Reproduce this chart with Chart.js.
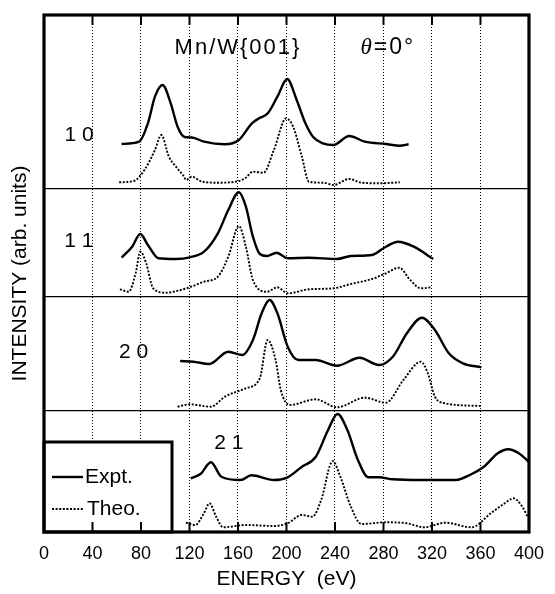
<!DOCTYPE html>
<html>
<head>
<meta charset="utf-8">
<script src="https://cdn.jsdelivr.net/npm/chart.js@4.4.1/dist/chart.umd.min.js"></script>
<style>
  html, body { margin: 0; padding: 0; background: #fff; }
</style>
</head>
<body>
<canvas id="leed" width="555" height="594"></canvas>
<script>
// LEED I(V) curves, Mn/W{001}, theta = 0
// energies in eV, intensities in arb. units (relative to the panel floor)

const energyTicks = [0, 40, 80, 120, 160, 200, 240, 280, 320, 360, 400];

// beam 1 0
const e10Expt = [64, 78.5, 85.7, 91.5, 97.8, 104.5, 110.2, 116, 122, 132, 149, 160.7, 171.5, 177.4, 184.6, 192.5, 200.6, 208.4, 215.6, 222, 230, 238.7, 251.7, 264.6, 282, 293.5, 300.7];
const i10Expt = [45, 47.3, 65.7, 92.3, 104, 85.7, 62.3, 52, 51.5, 47.3, 44.7, 49, 65.7, 70.7, 75.7, 92.3, 110, 89, 65.7, 52, 45.7, 44, 53, 47.3, 45, 43.3, 44.7];
const e10Theo = [62, 74, 82.8, 91.5, 96.7, 103, 108.8, 114.6, 117.5, 121.8, 130.4, 143.4, 160.7, 166.5, 172.3, 181, 189.6, 199.7, 205.5, 212.7, 218.5, 230, 238.7, 251.7, 261.8, 276.2, 293.5];
const i10Theo = [6.7, 8, 19, 39, 54, 32.3, 22.3, 14, 9, 12.3, 7.3, 6.3, 8, 11.3, 17.3, 16.3, 39, 70.7, 62.3, 32.3, 7.3, 6.3, 4, 10, 6.3, 5.7, 6.7];

// beam 1 1
const e11Expt = [64, 72.7, 79.4, 85.7, 94.4, 108.8, 120.3, 132, 143.4, 152, 160.7, 166.5, 172.3, 178, 183.8, 191.9, 201, 218.5, 241.6, 253, 270.4, 282, 292, 305, 321];
const i11Expt = [39.3, 50.3, 63, 52, 38.7, 38, 39.7, 45.3, 63.7, 87, 104.7, 90.3, 60.3, 43, 41, 44.3, 38.7, 39.3, 38, 41, 42, 50.3, 55.3, 50.3, 38];
const e11Theo = [62.6, 69.8, 75.6, 79.4, 84.3, 90, 100, 117.5, 132, 143.4, 152, 160.7, 166.5, 172.3, 183.8, 192.5, 201, 218.5, 238.7, 253, 270.4, 282, 293, 302, 310.8, 319.5];
const i11Theo = [7.7, 5.3, 23.7, 45.3, 33.7, 8.7, 4.3, 8.7, 15.3, 20.3, 40.3, 71, 50.3, 17, 5.3, 9.7, 3.7, 7.7, 8.7, 13, 18, 23.7, 29.3, 17, 8.7, 9.7];

// beam 2 0
const e20Expt = [112.3, 123.2, 136.2, 152, 163.6, 172.3, 179.5, 186, 192.5, 201, 209.8, 224.2, 241.6, 260.3, 276.2, 287.7, 299.3, 311.7, 322.4, 333.9, 345.5, 360.8];
const i20Expt = [50, 49.3, 47, 59.3, 56, 71, 97.7, 111, 97.7, 64.3, 51, 51, 45.3, 53.3, 46, 54.3, 77.7, 93.3, 81, 57.7, 47.7, 43.7];
const e20Theo = [110.2, 120.3, 137.7, 149.2, 166.5, 178, 184.4, 191, 195.3, 202.6, 224.2, 241.6, 264.6, 282, 296.4, 310.8, 316.6, 322.4, 331, 360.5];
const i20Theo = [4.3, 6.7, 4.3, 14.3, 22.7, 32.7, 71, 51, 21, 6, 11.7, 3.7, 13.3, 8.3, 31, 49.3, 37.7, 14.3, 7.7, 5];

// beam 2 1
const e21Expt = [121, 129, 137.7, 146.3, 162.2, 170.9, 189.6, 201, 212.7, 224.2, 234.3, 242.1, 250.2, 258.9, 267.5, 276.2, 287.7, 310.8, 339.7, 351.2, 362.8, 374.3, 383, 391.6, 399.7];
const i21Expt = [53.7, 58, 69.7, 55.3, 52, 56.7, 52, 54.7, 65.3, 75.3, 102, 118, 102, 72, 54.7, 54.7, 52.7, 52, 52, 57, 65.3, 78.7, 82.7, 78.7, 70.3];
const e21Theo = [117, 124.7, 131.9, 136.5, 142, 147.8, 166.5, 189.6, 201, 212.7, 221.4, 228.6, 238.1, 244.4, 253.1, 261.8, 282, 299.3, 313.7, 331, 352.6, 368.5, 380, 387.3, 394.5, 398.8];
const i21Theo = [9.3, 7, 18.7, 28.7, 15.3, 4.7, 7, 6, 8.7, 17, 15.3, 32, 71, 55.3, 25.3, 8, 9.7, 8.7, 4.7, 9.3, 4.7, 18.7, 28.7, 33.7, 25.3, 15.3];

// each beam is stacked on its own floor
const beamNames = ['1 0', '1 1', '2 0', '2 1'];
const beamOffsets = [343, 235, 121, 0];
const yTop = 517;

const FONT = '"Liberation Sans", Arial, Helvetica, sans-serif';

function series(es, is, offset) {
    return es.map((e, i) => ({ x: e, y: is[i] + offset }));
}

function curve(label, es, is, offset, dotted) {
    return {
        label: label,
        data: series(es, is, offset),
        borderColor: '#000',
        borderWidth: dotted ? 1.9 : 2.4,
        borderDash: dotted ? [2, 1.6] : [],
        pointRadius: 0,
        fill: false,
        cubicInterpolationMode: 'monotone'
    };
}

const datasets = [
    curve('Expt.', e10Expt, i10Expt, beamOffsets[0], false),
    curve('Theo.', e10Theo, i10Theo, beamOffsets[0], true),
    curve('Expt.', e11Expt, i11Expt, beamOffsets[1], false),
    curve('Theo.', e11Theo, i11Theo, beamOffsets[1], true),
    curve('Expt.', e20Expt, i20Expt, beamOffsets[2], false),
    curve('Theo.', e20Theo, i20Theo, beamOffsets[2], true),
    curve('Expt.', e21Expt, i21Expt, beamOffsets[3], false),
    curve('Theo.', e21Theo, i21Theo, beamOffsets[3], true)
];

// where the beam labels sit (energy, height)
const beamLabelPos = [[29, 397], [28.7, 291], [73.8, 180], [152.5, 89]];

// legend box, frame, inward ticks and texts
const decor = {
    id: 'decor',
    afterDatasetsDraw(chart) {
        const { ctx, chartArea: a, scales: { x, y } } = chart;
        ctx.save();
        ctx.fillStyle = '#000';
        ctx.strokeStyle = '#000';

        // title + angle
        ctx.textBaseline = 'middle';
        const ty = y.getPixelForValue(484);
        ctx.textAlign = 'center';
        ctx.font = '22px ' + FONT;
        ctx.letterSpacing = '2px';
        ctx.fillText('Mn/W{001}', x.getPixelForValue(160), ty);
        ctx.textAlign = 'left';
        ctx.font = 'italic 23px "Liberation Serif", "Times New Roman", serif';
        const tx = x.getPixelForValue(261);
        ctx.fillText('θ', tx, ty);
        const tw = ctx.measureText('θ').width;
        ctx.font = '23px ' + FONT;
        ctx.fillText('=0°', tx + tw, ty);
        ctx.letterSpacing = '0px';

        // beam labels
        ctx.textAlign = 'center';
        ctx.font = '21px ' + FONT;
        beamNames.forEach((n, i) => {
            ctx.fillText(n, x.getPixelForValue(beamLabelPos[i][0]), y.getPixelForValue(beamLabelPos[i][1]));
        });

        // legend
        const lx = a.left, ly = 442, lw = 128, lh = a.bottom - ly;
        ctx.fillStyle = '#fff';
        ctx.fillRect(lx, ly, lw, lh);
        ctx.lineWidth = 3;
        ctx.strokeRect(lx, ly, lw, lh);
        ctx.fillStyle = '#000';
        ctx.textAlign = 'left';
        ctx.font = '21px ' + FONT;
        [datasets[0], datasets[1]].forEach((ds, i) => {
            const yy = 477 + i * 32;
            ctx.beginPath();
            ctx.lineWidth = ds.borderWidth;
            ctx.setLineDash(ds.borderDash);
            ctx.moveTo(lx + 8, yy);
            ctx.lineTo(lx + 39, yy);
            ctx.stroke();
            ctx.setLineDash([]);
            ctx.fillText(ds.label, lx + 41 + i * 2, yy);
        });

        // inward ticks
        ctx.lineWidth = 2;
        energyTicks.forEach(v => {
            const px = x.getPixelForValue(v);
            ctx.beginPath();
            ctx.moveTo(px, a.bottom);
            ctx.lineTo(px, a.bottom - 10);
            ctx.moveTo(px, a.top);
            ctx.lineTo(px, a.top + 10);
            ctx.stroke();
        });

        // frame
        ctx.lineWidth = 3.2;
        ctx.strokeRect(a.left, a.top, a.right - a.left, a.bottom - a.top);
        ctx.restore();
    }
};

new Chart(document.getElementById('leed'), {
    type: 'line',
    data: { datasets: datasets },
    plugins: [decor],
    options: {
        responsive: false,
        animation: false,
        devicePixelRatio: 1,
        layout: { padding: { top: 15, right: 20, left: 0, bottom: 0 } },
        plugins: {
            legend: { display: false },
            tooltip: { enabled: false }
        },
        scales: {
            x: {
                type: 'linear',
                min: 0,
                max: 400,
                afterBuildTicks: s => { s.ticks = energyTicks.map(v => ({ value: v })); },
                afterFit: s => { s.height = 62; },
                ticks: {
                    color: '#000',
                    font: { family: FONT, size: 18 },
                    padding: 11,
                    maxRotation: 0,
                    autoSkip: false
                },
                grid: { color: '#000', lineWidth: 1, drawTicks: false },
                border: { display: false, dash: [1, 2] },
                title: {
                    display: true,
                    text: 'ENERGY  (eV)',
                    color: '#000',
                    font: { family: FONT, size: 21 },
                    padding: { top: 0, bottom: 2 }
                }
            },
            y: {
                type: 'linear',
                min: 0,
                max: yTop,
                afterBuildTicks: s => { s.ticks = beamOffsets.filter(v => v > 0).map(v => ({ value: v })); },
                afterFit: s => { s.width = 44; },
                ticks: { display: false },
                grid: { color: '#000', lineWidth: 1.3, drawTicks: false },
                border: { display: false },
                title: {
                    display: true,
                    text: 'INTENSITY (arb. units)',
                    color: '#000',
                    font: { family: FONT, size: 21 },
                    padding: { top: 8, bottom: 0 }
                }
            }
        }
    }
});
</script>
</body>
</html>
